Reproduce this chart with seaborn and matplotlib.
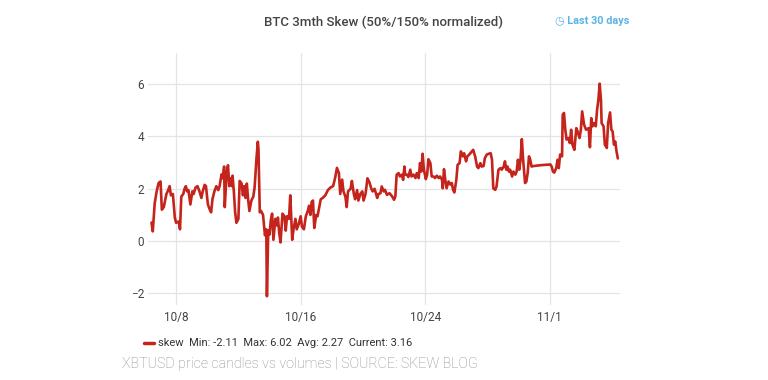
import seaborn as sns
import matplotlib.pyplot as plt
import matplotlib.dates as mdates
import pandas as pd

# hours since 2019-10-06 00:00
HOURS = [
    10, 12, 15, 18, 21, 24, 26, 29, 33, 35, 38, 40, 43, 46, 48, 52, 54, 56, 59, 61,
    63, 65, 67, 70, 73, 75, 78, 81, 84, 87, 89, 92, 94, 97, 100, 102, 104, 107, 110, 113,
    115, 118, 120, 122, 123, 126, 128, 130, 132, 134, 135, 137, 139, 141, 144, 146, 149, 151, 153, 155,
    157, 159, 161, 164, 167, 169, 172, 174, 175, 177, 179, 182, 185, 187, 188, 190, 192, 194, 196, 198,
    201, 203, 205, 207, 209, 212, 215, 217, 219, 222, 224, 227, 229, 232, 234, 237, 240, 242, 245, 248,
    251, 253, 255, 257, 259, 261, 264, 266, 269, 271, 274, 278, 282, 286, 290, 293, 296, 299, 301, 304,
    306, 309, 311, 313, 317, 319, 322, 324, 327, 329, 332, 335, 337, 340, 343, 346, 349, 351, 354, 358,
    360, 363, 365, 368, 370, 373, 377, 381, 384, 386, 388, 391, 393, 396, 398, 400, 401, 404, 406, 409,
    411, 414, 417, 419, 422, 424, 426, 428, 430, 433, 435, 437, 440, 442, 445, 447, 450, 453, 455, 458,
    459, 461, 463, 465, 468, 471, 473, 475, 477, 480, 482, 485, 487, 490, 492, 495, 497, 500, 504, 506,
    509, 512, 514, 517, 519, 522, 524, 527, 530, 533, 535, 537, 540, 542, 545, 548, 550, 553, 555, 557,
    559, 561, 563, 566, 568, 571, 573, 575, 577, 579, 581, 583, 586, 588, 590, 592, 594, 596, 599, 609,
    625, 627, 629, 631, 634, 636, 638, 640, 643, 644, 646, 648, 650, 653, 655, 657, 659, 662, 665, 667,
    670, 672, 674, 677, 680, 684, 686, 688, 690, 692, 695, 697, 699, 701, 703, 704, 707, 709, 712, 714,
    717, 719, 721, 723, 725, 727, 729,
]
SKEW = [
    0.71, 0.37, 1.45, 1.90, 2.22, 2.28, 1.20, 1.30, 1.80, 1.90, 2.10, 1.75, 1.80, 0.90, 0.70, 0.75, 0.45, 1.70, 1.80, 2.00,
    2.10, 1.90, 1.95, 1.40, 1.90, 1.80, 2.05, 2.10, 1.90, 1.65, 1.90, 2.15, 2.10, 1.40, 1.20, 1.10, 1.60, 1.90, 2.10, 1.95,
    2.10, 2.55, 2.40, 2.85, 1.30, 2.65, 2.90, 2.10, 2.40, 2.10, 2.50, 1.90, 1.10, 0.70, 0.85, 2.30, 2.20, 1.75, 2.10, 1.65,
    2.20, 1.60, 1.15, 1.55, 1.70, 2.05, 3.20, 3.80, 3.50, 1.10, 1.15, 1.00, 0.22, 0.45, -2.11, 0.40, 0.25, 0.80, 1.05, 0.05,
    0.85, 0.60, 0.90, 0.30, -0.05, 1.05, 0.95, 0.40, 0.95, 0.85, 1.75, 0.05, 0.45, 0.85, 0.45, 0.65, 0.95, 0.55, 0.45, 0.95,
    1.15, 1.35, 1.00, 1.50, 1.55, 0.50, 1.00, 0.95, 1.35, 1.60, 1.65, 1.75, 1.95, 2.05, 2.10, 2.40, 2.80, 2.60, 1.80, 2.35,
    1.90, 1.70, 1.30, 1.90, 2.00, 2.30, 1.80, 1.60, 1.95, 1.55, 1.80, 1.90, 1.55, 1.80, 2.40, 2.25, 2.00, 1.90, 2.00, 1.65,
    1.80, 1.83, 2.09, 1.90, 1.96, 1.77, 1.83, 1.71, 1.58, 1.71, 2.54, 2.60, 2.47, 2.54, 2.34, 2.85, 2.54, 2.54, 2.45, 2.73,
    2.47, 2.54, 2.41, 2.60, 2.41, 2.98, 2.66, 3.34, 2.73, 2.37, 2.54, 3.13, 2.98, 2.47, 2.47, 2.41, 2.50, 2.41, 2.47, 2.34,
    2.02, 2.75, 2.34, 2.02, 2.28, 2.16, 2.22, 1.96, 1.86, 2.34, 2.92, 2.98, 3.43, 3.24, 3.36, 3.05, 3.24, 3.31, 3.43, 3.49,
    3.24, 2.85, 2.79, 2.98, 2.85, 2.87, 3.17, 3.31, 3.34, 3.36, 3.11, 2.02, 1.96, 2.09, 2.73, 2.79, 2.73, 2.85, 3.05, 2.73,
    2.85, 2.66, 2.73, 2.47, 2.66, 2.54, 2.66, 3.11, 2.73, 3.11, 3.90, 3.11, 2.22, 2.28, 2.60, 3.24, 3.11, 2.85, 2.87, 2.90,
    2.93, 2.85, 2.66, 2.62, 2.79, 3.11, 2.79, 3.31, 3.24, 4.83, 4.90, 4.26, 3.88, 3.94, 3.75, 4.26, 3.69, 3.49, 4.32, 4.19,
    3.94, 4.26, 4.96, 4.45, 4.26, 4.32, 3.59, 4.70, 4.39, 4.51, 4.39, 5.02, 5.40, 6.02, 5.40, 4.51, 4.39, 3.69, 3.56, 4.51,
    4.92, 4.26, 4.19, 3.69, 3.81, 3.43, 3.16,
]
Y_TICKS = [-2, 0, 2, 4, 6]
X_TICKS = ['2019-10-08', '2019-10-16', '2019-10-24', '2019-11-01']
TITLE = 'BTC 3mth Skew (50%/150% normalized)'
LEGEND_TEXT = 'skew  Min: -2.11  Max: 6.02  Avg: 2.27  Current: 3.16'
CAPTION = 'XBTUSD price candles vs volumes | SOURCE: SKEW BLOG'

LINE_COLOR = '#c4241b'

start = pd.Timestamp('2019-10-06')
df = pd.DataFrame({
    'time': start + pd.to_timedelta(HOURS, unit='h'),
    'skew': SKEW,
})

sns.set_style('white')
plt.rcParams['font.family'] = ['Roboto', 'DejaVu Sans']

fig = plt.figure(figsize=(7.68, 3.8), dpi=100)
ax = fig.add_axes([0.193, 0.197, 0.614, 0.664])

sns.lineplot(data=df, x='time', y='skew', color=LINE_COLOR, linewidth=1.9, ax=ax, legend=False)

ax.set_xlim(start + pd.Timedelta(hours=5), start + pd.Timedelta(hours=732))
ax.set_ylim(-2.45, 7.2)
ax.set_yticks(Y_TICKS)
ax.set_xticks(pd.to_datetime(X_TICKS))
ax.xaxis.set_major_formatter(mdates.DateFormatter('%-m/%-d'))
ax.set_xlabel('')
ax.set_ylabel('')
ax.grid(True, color='#e4e4e4', linewidth=0.9)
for s in ax.spines.values():
    s.set_visible(False)
ax.tick_params(axis='both', length=0, labelsize=8.5, labelcolor='#444444')
ax.tick_params(axis='y', pad=3)
ax.tick_params(axis='x', pad=4)

fig.text(0.499, 0.942, TITLE, ha='center', va='center', fontsize=9.5,
         color='#444444', fontweight='medium')
fig.text(0.771, 0.945, '\u25f7 Last 30 days', ha='center', va='center', fontsize=7.8,
         color='#5ab4e5', fontweight='bold', family=['Roboto', 'DejaVu Sans'])

fig.add_artist(plt.Line2D([0.187, 0.201], [0.098, 0.098], color=LINE_COLOR, linewidth=2.5))
fig.text(0.206, 0.098, LEGEND_TEXT, ha='left', va='center', fontsize=8, color='#333333')
fig.text(0.159, 0.043, CAPTION, ha='left', va='center', fontsize=10.3, color='#8a8a8a',
         fontweight='light')

fig.savefig('out.png', dpi=100)
